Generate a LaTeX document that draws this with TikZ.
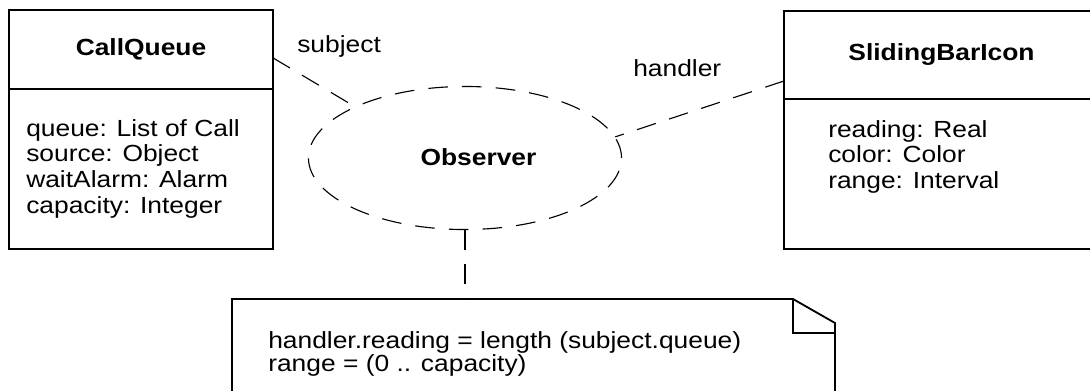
\documentclass[tikz,border=0pt]{standalone}
\usepackage{fontspec}
\setmainfont{Liberation Sans}[FakeStretch=1.13]
\usetikzlibrary{positioning, shapes.geometric}

\begin{document}
\begin{tikzpicture}[
    x=0.025cm, y=-0.025cm,
    font=\fontsize{16.6}{18.3}\selectfont,
    contorno/.style={line width=1.3pt},
    titulo/.style={draw, contorno, outer sep=0pt, inner sep=0pt, font=\fontsize{16.6}{18.3}\selectfont\bfseries},
    corpo/.style={draw, contorno, outer sep=0pt, inner sep=0pt},
    attrs/.style={anchor=north west, inner sep=0pt, align=left},
    tracejado/.style={line width=0.8pt, dash pattern=on 14pt off 10pt},
    colab/.style={draw, ellipse, tracejado, inner sep=0pt},
    papel/.style={anchor=base west, inner sep=0pt}
  ]
  \useasboundingbox (0,0) rectangle (1090,390);
  \clip (0,0) rectangle (1090,390);

  % classes
  \node[titulo, minimum width=6.6cm, minimum height=1.975cm] (cq) at (141,49.5) {CallQueue};
  \node[corpo, minimum width=6.6cm, minimum height=4cm, below=0pt of cq] (cq-corpo) {};
  \node[attrs] (cq-attrs) at (26,119) {queue: List of Call\\ source: Object\\ waitAlarm: Alarm\\ capacity: Integer};

  \node[titulo, minimum width=7.875cm, minimum height=2.2cm] (sb) at (941.5,55) {SlidingBarIcon};
  \node[corpo, minimum width=7.875cm, minimum height=3.75cm, below=0pt of sb] (sb-corpo) {};
  \node[attrs] (sb-attrs) at (828,120) {reading: Real\\ color: Color\\ range: Interval};

  % colaboracao e papeis
  \node[colab, minimum width=7.825cm, minimum height=3.575cm] (obs) at (465,158) {};
  \node[font=\fontsize{16.6}{18.3}\selectfont\bfseries] (obs-nome) at (478.5,157) {Observer};

  \draw[tracejado] ([yshift=-0.21cm]cq.east) -- (obs.155);
  \draw[tracejado] ([yshift=-0.65cm]sb.west) -- (obs.8);

  \node[papel] (subject) at (297,52) {subject};
  \node[papel] (handler) at (633,76) {handler};

  % nota
  \coordinate (nota-topo) at (465,299);
  \draw[tracejado] (obs.south) -- (nota-topo);
  \draw[contorno] (232,395) -- (232,299) -- (793,299) -- (835,323) -- (835,395);
  \draw[contorno] (793,299) -- (793,333) -- (835,333);
  \node[attrs, font=\fontsize{16.6}{15.4}\selectfont] (nota) at (268,331)
    {handler.reading = length (subject.queue)\\ range = (0 .. capacity)};
\end{tikzpicture}
\end{document}
